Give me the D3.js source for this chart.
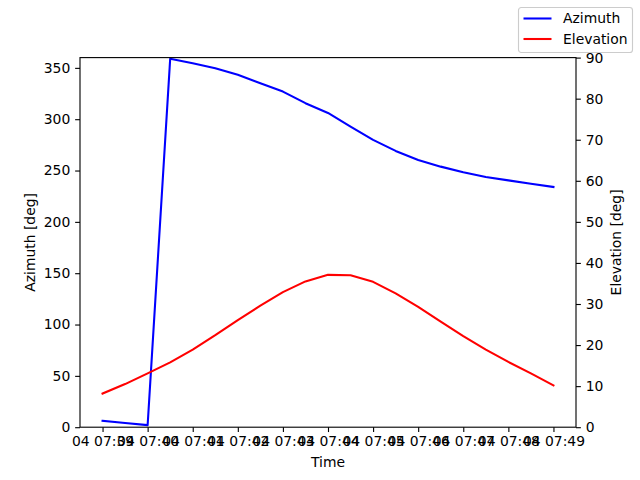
<!DOCTYPE html>
<html>
<head>
<meta charset="utf-8">
<script src="https://cdn.jsdelivr.net/npm/d3@7"></script>
<style>
  body { margin: 0; background: #fff; }
  svg text { font-family: "DejaVu Sans", sans-serif; font-size: 13.9px; fill: #000; }
</style>
</head>
<body>
<svg id="chart" width="640" height="480"></svg>
<script>
const times = ["07:39:00", "07:39:30", "07:40:00", "07:40:30", "07:41:00", "07:41:30", "07:42:00",
  "07:42:30", "07:43:00", "07:43:30", "07:44:00", "07:44:30", "07:45:00", "07:45:30", "07:46:00",
  "07:46:30", "07:47:00", "07:47:30", "07:48:00", "07:48:30", "07:49:00"];
const azimuth = [6.2, 4.1, 2.0, 358.8, 354.5, 349.7, 343.2, 335.1, 326.9, 315.6, 306.1,
  292.8, 279.8, 269.1, 260.3, 253.8, 248.3, 243.7, 240.4, 237.2, 234.0];
const elevation = [8.2, 10.5, 13.1, 15.8, 18.9, 22.4, 26.1, 29.6, 32.9, 35.5, 37.1,
  37.0, 35.4, 32.6, 29.3, 25.7, 22.2, 18.9, 15.9, 13.1, 10.2];
const azTicks = [0, 50, 100, 150, 200, 250, 300, 350];
const elTicks = [0, 10, 20, 30, 40, 50, 60, 70, 80, 90];
const seriesNames = ["Azimuth", "Elevation"];
const seriesColors = ["#0000ff", "#ff0000"];

const parseT = d3.utcParse("%Y-%m-%d %H:%M:%S");
const dates = times.map((t) => parseT("2024-01-04 " + t));

const margin = { top: 57.6, right: 64, bottom: 52.8, left: 80 };
const width = 640 - margin.left - margin.right;
const height = 480 - margin.top - margin.bottom;

const svg = d3.select("#chart");
const g = svg.append("g").attr("transform", `translate(${margin.left},${margin.top})`);

// x scale with 5% margins like matplotlib
const [t0, t1] = d3.extent(dates);
const pad = (t1 - t0) * 0.05;
const x = d3.scaleUtc().domain([new Date(+t0 - pad), new Date(+t1 + pad)]).range([0, width]);
const yAz = d3.scaleLinear().domain([0, 360]).range([height, 0]);
const yEl = d3.scaleLinear().domain([0, 90]).range([height, 0]);

const minuteTicks = d3.utcMinute.range(t0, new Date(+t1 + 1));

const xAxis = d3.axisBottom(x).tickValues(minuteTicks).tickFormat(d3.utcFormat("%d %H:%M"))
  .tickSize(4.86).tickPadding(4.5);
const leftAxis = d3.axisLeft(yAz).tickValues(azTicks).tickSize(4.86).tickPadding(4.9);
const rightAxis = d3.axisRight(yEl).tickValues(elTicks).tickSize(4.86).tickPadding(4.9);

// lines
const azLine = d3.line().x((d, i) => x(dates[i])).y((d) => yAz(d));
const elLine = d3.line().x((d, i) => x(dates[i])).y((d) => yEl(d));

g.append("path").datum(azimuth).attr("d", azLine)
  .attr("fill", "none").attr("stroke", seriesColors[0]).attr("stroke-width", 2.08)
  .attr("stroke-linejoin", "round").attr("stroke-linecap", "square");
g.append("path").datum(elevation).attr("d", elLine)
  .attr("fill", "none").attr("stroke", seriesColors[1]).attr("stroke-width", 2.08)
  .attr("stroke-linejoin", "round").attr("stroke-linecap", "square");

// axes
function styleAxis(sel) {
  sel.select(".domain").remove();
  sel.selectAll(".tick line").attr("stroke", "#000").attr("stroke-width", 1.11);
  sel.selectAll(".tick text").style("font-family", "DejaVu Sans").style("font-size", "13.9px").attr("fill", "#000");
}
g.append("g").attr("transform", `translate(0,${height})`).call(xAxis).call(styleAxis);
g.append("g").call(leftAxis).call(styleAxis);
g.append("g").attr("transform", `translate(${width},0)`).call(rightAxis).call(styleAxis);

// frame
g.append("rect").attr("width", width).attr("height", height)
  .attr("fill", "none").attr("stroke", "#000").attr("stroke-width", 1.11);

// labels
g.append("text").attr("x", width / 2).attr("y", height + 40).attr("text-anchor", "middle").text("Time");
g.append("text").attr("transform", `translate(${-45},${height / 2}) rotate(-90)`)
  .attr("text-anchor", "middle").text("Azimuth [deg]");
g.append("text").attr("transform", `translate(${width + 45},${height / 2}) rotate(-90)`)
  .attr("text-anchor", "middle").text("Elevation [deg]");

// legend
const lg = svg.append("g").attr("transform", "translate(518.5,7.5)");
lg.append("rect").attr("width", 114).attr("height", 45).attr("rx", 2.8)
  .attr("fill", "#fff").attr("fill-opacity", 0.8).attr("stroke", "#cccccc").attr("stroke-width", 1.11);
seriesNames.forEach((name, i) => {
  const yy = 11 + i * 20.5;
  lg.append("line").attr("x1", 5).attr("x2", 33).attr("y1", yy).attr("y2", yy)
    .attr("stroke", seriesColors[i]).attr("stroke-width", 2.08);
  lg.append("text").attr("x", 44.5).attr("y", yy).attr("dy", "0.35em").text(name);
});
</script>
</body>
</html>
